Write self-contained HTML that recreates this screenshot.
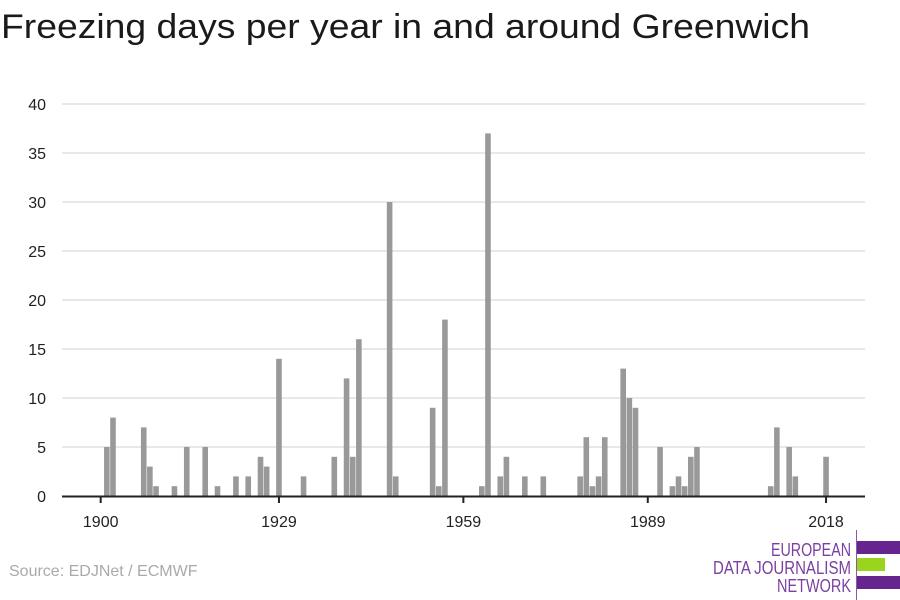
<!DOCTYPE html>
<html><head><meta charset="utf-8"><style>
html,body{margin:0;padding:0;background:#fff;}
svg{display:block;font-family:"Liberation Sans",sans-serif;}
</style></head><body>
<svg id="s" width="900" height="600" viewBox="0 0 900 600" xmlns="http://www.w3.org/2000/svg">
<rect width="900" height="600" fill="#fff"/>
<text x="1" y="38" font-size="34" fill="#1a1a1a" textLength="809" lengthAdjust="spacingAndGlyphs">Freezing days per year in and around Greenwich</text>
<g id="grid"></g>
<g id="bars" fill="#999"></g>
<line x1="62" y1="496.5" x2="865" y2="496.5" stroke="#222" stroke-width="2"/>
<g id="ticks" font-size="16" fill="#222" text-anchor="middle"></g>
<text x="9" y="576" font-size="16" fill="#aaa">Source: EDJNet / ECMWF</text>
<line x1="856.5" y1="530" x2="856.5" y2="600" stroke="#8a5aa8" stroke-width="1"/>
<text x="771" y="556" font-size="18" fill="#7b3fa0" textLength="80" lengthAdjust="spacingAndGlyphs">EUROPEAN</text>
<text x="713" y="574" font-size="18" fill="#7b3fa0" textLength="138" lengthAdjust="spacingAndGlyphs">DATA JOURNALISM</text>
<text x="777" y="592" font-size="18" fill="#7b3fa0" textLength="74" lengthAdjust="spacingAndGlyphs">NETWORK</text>
<rect x="857" y="541" width="43" height="13" fill="#66248e"/>
<rect x="857" y="558" width="28" height="13" fill="#9ad41e"/>
<rect x="857" y="576" width="43" height="13" fill="#66248e"/>
</svg>
<script>
var ns="http://www.w3.org/2000/svg";
function el(p,t,a,txt){var e=document.createElementNS(ns,t);for(var k in a)e.setAttribute(k,a[k]);if(txt!=null)e.textContent=txt;document.getElementById(p).appendChild(e);}
for(var v=5;v<=40;v+=5){var y=496-v*9.8;el("grid","line",{x1:62,x2:865,y1:y,y2:y,stroke:"#e0e0e0","stroke-width":1.5});}
for(var v=0;v<=40;v+=5){var y=496-v*9.8;el("ticks","text",{x:46,y:y+6,"text-anchor":"end"},String(v));}
var d={1901:5,1902:8,1907:7,1908:3,1909:1,1912:1,1914:5,1917:5,1919:1,1922:2,1924:2,1926:4,1927:3,1929:14,1933:2,1938:4,1940:12,1941:4,1942:16,1947:30,1948:2,1954:9,1955:1,1956:18,1962:1,1963:37,1965:2,1966:4,1969:2,1972:2,1978:2,1979:6,1980:1,1981:2,1982:6,1985:13,1986:10,1987:9,1991:5,1993:1,1994:2,1995:1,1996:4,1997:5,2009:1,2010:7,2012:5,2013:2,2018:4};
function X(yr){return 100.7+(yr-1900)*6.147;}
for(var yr in d){var h=d[yr]*9.8;el("bars","rect",{x:X(+yr)-2.8,y:496-h,width:5.6,height:h});}
[1900,1929,1959,1989,2018].forEach(function(yr){var x=X(yr);el("ticks","line",{x1:x,x2:x,y1:496,y2:503,stroke:"#222","stroke-width":2});el("ticks","text",{x:x,y:527},String(yr));});
</script>
</body></html>
